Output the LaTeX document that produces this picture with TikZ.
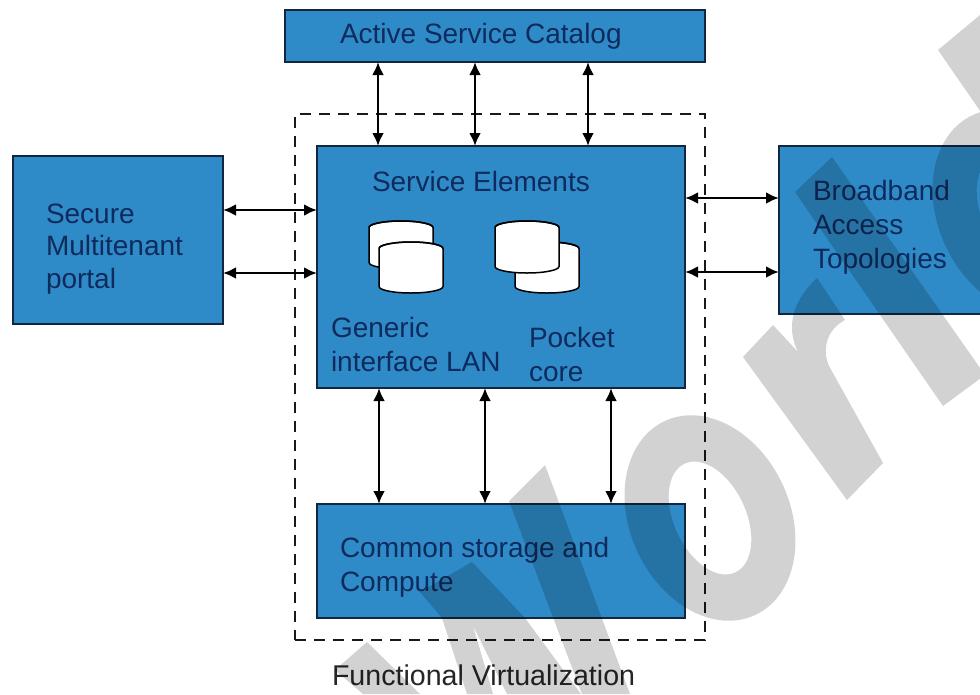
\documentclass[tikz,border=0pt]{standalone}
\usepackage{fontspec}
\setmainfont{Liberation Sans}
\usetikzlibrary{arrows.meta}
\definecolor{boxblue}{HTML}{2E8BC8}
\definecolor{boxedge}{HTML}{12263F}
\definecolor{inktext}{HTML}{0F2A5C}
\definecolor{capink}{HTML}{262626}
\newcommand{\dbcyl}[4]{% left x, top y, width, height
  \fill[white,draw=black,line width=1.5pt]
    (#1,#2+6.5) -- (#1,#2+#4-6.5) arc[start angle=180,end angle=360,x radius=#3/2*1pt,y radius=6.5pt]
    -- (#1+#3,#2+6.5) arc[start angle=0,end angle=180,x radius=#3/2*1pt,y radius=6.5pt] -- cycle;
  \draw[black,line width=1.5pt] (#1,#2+6.5) arc[start angle=180,end angle=360,x radius=#3/2*1pt,y radius=-6.5pt];
}
\tikzset{
  x=1pt,y=-1pt,
  bluebox/.style={draw=boxedge,fill=boxblue,line width=1.8pt,inner sep=0pt,outer sep=0pt,rectangle},
  lbl/.style={text=inktext,font=\fontsize{28}{34}\selectfont,inner sep=0pt,outer sep=0pt,anchor=base west,align=left},
  dbl/.style={{Latex[length=13pt,width=12pt]}-{Latex[length=13pt,width=12pt]},line width=2.6pt,black},
  frame/.style={draw=black!90,line width=2.6pt,dash pattern=on 11pt off 8pt},
  wm/.style={fill=black,fill opacity=0.175,even odd rule}
}
\begin{document}
\begin{tikzpicture}
\useasboundingbox (0,0) rectangle (980,694);
\clip (0,0) rectangle (980,694);
\fill[white] (0,0) rectangle (980,694);

\node[frame,minimum width=410pt,minimum height=526pt,inner sep=0pt] (fv) at (500,377) {};
\node[bluebox,minimum width=420pt,minimum height=52pt] (cat) at (495,36) {};
\node[bluebox,minimum width=368pt,minimum height=242pt] (se) at (501,267) {};
\node[bluebox,minimum width=368pt,minimum height=114pt] (cs) at (501,561) {};
\node[bluebox,minimum width=210pt,minimum height=168pt] (smp) at (118,240) {};
\node[bluebox,minimum width=222pt,minimum height=168pt] (bat) at (890,230) {};

\dbcyl{369}{221}{64}{48}
\dbcyl{379}{242}{64}{51}
\dbcyl{515}{242}{64}{51}
\dbcyl{495}{221}{64}{52}

\node[lbl] (tcat) at (340,43) {Active Service Catalog};
\node[lbl] (tse) at (372,191) {Service Elements};
\node[lbl] (tgen) at (331,371) {Generic\\interface LAN};
\node[lbl] (tpoc) at (529,381) {Pocket\\core};
\node[lbl] (tcs) at (340,591) {Common storage and\\Compute};
\node[lbl,font=\fontsize{28}{32.5}\selectfont] (tsmp) at (46,288) {Secure\\Multitenant\\portal};
\node[lbl] (tbat) at (813,268) {Broadband\\Access\\Topologies};
\node[lbl,text=capink,font=\fontsize{28.6}{34}\selectfont] (tfv) at (332,685) {Functional Virtualization};

\coordinate (a1) at (378,0);
\coordinate (a2) at (475,0);
\coordinate (a3) at (588,0);
\coordinate (b1) at (379,0);
\coordinate (b2) at (485,0);
\coordinate (b3) at (611,0);
\coordinate (c1) at (0,210);
\coordinate (c2) at (0,273);
\coordinate (d1) at (0,198);
\coordinate (d2) at (0,272);
\draw[dbl] (cat.south -| a1) -- (se.north -| a1);
\draw[dbl] (cat.south -| a2) -- (se.north -| a2);
\draw[dbl] (cat.south -| a3) -- (se.north -| a3);
\draw[dbl] (se.south -| b1) -- (cs.north -| b1);
\draw[dbl] (se.south -| b2) -- (cs.north -| b2);
\draw[dbl] (se.south -| b3) -- (cs.north -| b3);
\draw[dbl] (smp.east |- c1) -- (se.west |- c1);
\draw[dbl] (smp.east |- c2) -- (se.west |- c2);
\draw[dbl] (se.east |- d1) -- (bat.west |- d1);
\draw[dbl] (se.east |- d2) -- (bat.west |- d2);

% watermark shapes
\fill[wm] (367,642) -- (335,670) -- (363,694) -- (420,694) -- cycle;
\fill[wm] (420,592) -- (472,562) -- (525,618) -- (581,694) -- (507,694) -- (473,626) -- (493,694) -- (467,694) -- (442,618) -- cycle;
\fill[wm] (545,465) -- (509,501) -- (582,694) -- (630,694) -- cycle;
\fill[wm,rotate around={25:(710,518)}] (710,518) ellipse[x radius=80pt,y radius=107pt] (710,518) ellipse[x radius=36pt,y radius=60pt];
\fill[wm] (743,357) -- (773,325) -- (798,352) .. controls (788,332) and (788,305) .. (817,278) -- (845,320) .. controls (826,330) and (822,350) .. (829,366) -- (883,463) -- (847,500) -- cycle;
\fill[wm] (795,192) -- (832,157) -- (985,375) -- (943,406) -- cycle;
\fill[wm,rotate around={25:(1018,212)}] (1018,212) ellipse[x radius=80pt,y radius=107pt] (1018,212) ellipse[x radius=36pt,y radius=60pt];
\fill[wm] (938,50) -- (980,15) -- (985,15) -- (985,118) -- cycle;
\end{tikzpicture}
\end{document}
